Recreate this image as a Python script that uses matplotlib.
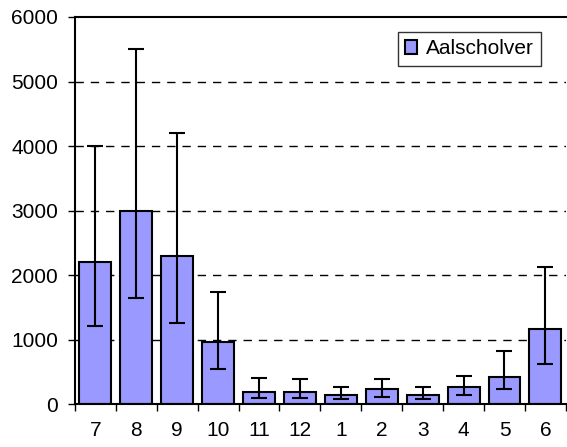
import numpy as np
import matplotlib.pyplot as plt

# months (July .. June)
months = ['7', '8', '9', '10', '11', '12', '1', '2', '3', '4', '5', '6']
# mean counts Aalscholver
means = [2200, 3000, 2300, 970, 190, 190, 135, 228, 135, 259, 414, 1158]
# lower / upper end of the error bars
err_low = [1210, 1650, 1250, 540, 98, 98, 73, 104, 73, 135, 228, 625]
err_high = [4000, 5500, 4200, 1740, 408, 383, 259, 383, 259, 439, 817, 2124]

plt.rcParams['font.family'] = ['Liberation Sans', 'DejaVu Sans']

fig = plt.figure(figsize=(5.67, 4.47), dpi=100)
ax = fig.add_axes([0.132, 0.096, 0.866, 0.866])

x = np.arange(len(months))
means_a = np.array(means)
yerr = [means_a - np.array(err_low), np.array(err_high) - means_a]

ax.bar(x, means, width=0.78, color='#9999FF', edgecolor='black', linewidth=1.5,
       label='Aalscholver', zorder=2)
ax.errorbar(x, means, yerr=yerr, fmt='none', ecolor='black', elinewidth=1.5,
            capsize=5.5, capthick=1.5, zorder=3)

ax.set_xlim(-0.5, len(months) - 0.5)
ax.set_ylim(0, 6000)
ax.set_yticks(np.arange(0, 6001, 1000))
for y in range(1000, 6000, 1000):
    ax.axhline(y, color='black', linestyle=(0, (6, 5)), linewidth=1, zorder=1)

# ticks between categories, labels centred
ax.set_xticks(np.arange(-0.5, len(months), 1.0))
ax.set_xticklabels([])
ax.set_xticks(x, minor=True)
ax.set_xticklabels(months, minor=True)
ax.tick_params(axis='x', which='major', direction='out', length=5, width=1)
ax.tick_params(axis='x', which='minor', length=0, pad=12, labelsize=15)
ax.tick_params(axis='y', direction='out', length=5, width=1, labelsize=15, pad=7)

for s in ['left', 'bottom', 'top']:
    ax.spines[s].set_linewidth(1.5)
ax.spines['right'].set_visible(False)

leg = ax.legend(loc='upper right', bbox_to_anchor=(0.949, 0.961), fontsize=15,
                frameon=True, fancybox=False, edgecolor='black', handlelength=0.6,
                handleheight=0.6, handletextpad=0.4, borderpad=0.35,
                borderaxespad=0)
leg.get_frame().set_linewidth(1)

fig.savefig('out.png', dpi=100)
